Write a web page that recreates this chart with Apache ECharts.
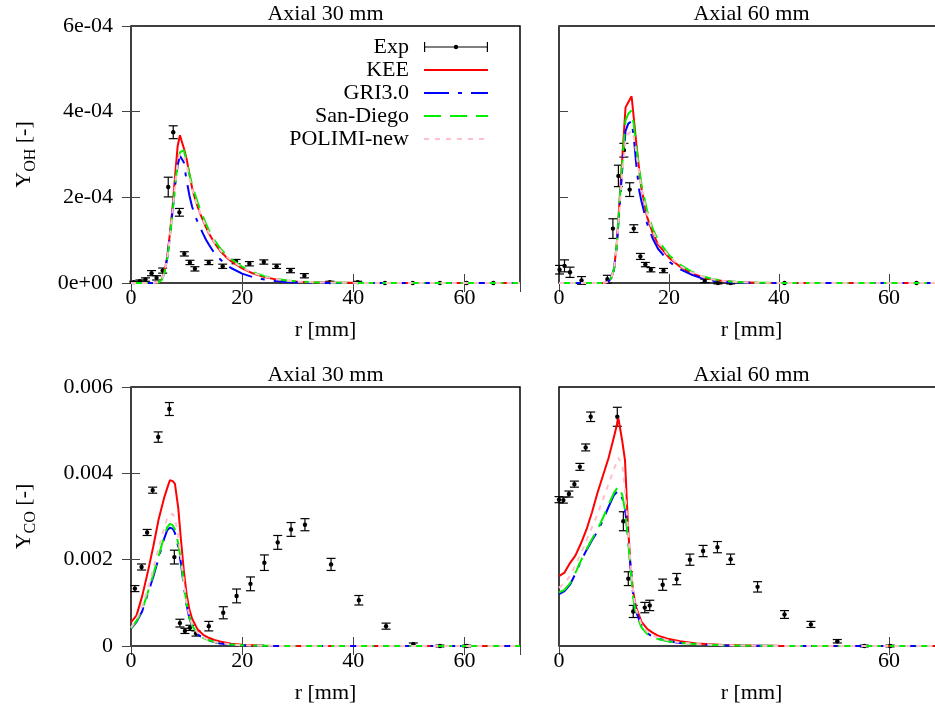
<!DOCTYPE html>
<html>
<head>
<meta charset="utf-8">
<script src="https://cdn.jsdelivr.net/npm/echarts@6/dist/echarts.min.js"></script>
<style>html,body{margin:0;padding:0;background:#fff;}#c{width:935px;height:711px;}</style>
</head>
<body>
<div id="c"></div>
<script>
// ---------------- DATA ----------------
const seriesNames = ['Exp', 'KEE', 'GRI3.0', 'San-Diego', 'POLIMI-new'];
const panelTitles = ['Axial 30 mm', 'Axial 60 mm', 'Axial 30 mm', 'Axial 60 mm'];
const xTickLabels = [0, 20, 40, 60];
const xTickLabelsCO60 = [0, 60];
const yTickLabelsOH = ['0e+00', '2e-04', '4e-04', '6e-04'];
const yTickLabelsCO = ['0', '0.002', '0.004', '0.006'];

// Y_OH, axial 30 mm
const rOH30 = [0,2,4,5,5.5,6,6.5,7,7.5,8,8.4,8.8,9.5,10,10.5,11,11.5,12,12.5,13,13.5,14,15,16,17,18,20,22,24,26,28,30,33,36,40,45,50,60,70];
const keeOH30 = [0,0,0,2e-6,8e-6,2.5e-5,6e-5,1.15e-4,1.8e-4,2.6e-4,3.2e-4,3.45e-4,3.15e-4,2.9e-4,2.55e-4,2.22e-4,1.98e-4,1.78e-4,1.6e-4,1.45e-4,1.3e-4,1.16e-4,9.4e-5,7.6e-5,6.2e-5,5.1e-5,3.4e-5,2.2e-5,1.4e-5,8.5e-6,5e-6,3e-6,1.5e-6,8e-7,3e-7,1e-7,0,0,0];
const griOH30 = [0,0,0,2e-6,7e-6,2.4e-5,5.6e-5,1.08e-4,1.7e-4,2.35e-4,2.75e-4,2.97e-4,2.82e-4,2.4e-4,2.05e-4,1.78e-4,1.58e-4,1.42e-4,1.28e-4,1.14e-4,1.01e-4,9.0e-5,7.0e-5,5.6e-5,4.4e-5,3.5e-5,2.2e-5,1.35e-5,8e-6,4.5e-6,2.5e-6,1.4e-6,6e-7,2e-7,0,0,0,0,0];
const sdOH30 = [0,0,0,2e-6,7e-6,2.3e-5,5.5e-5,1.05e-4,1.68e-4,2.35e-4,2.8e-4,3.05e-4,3.1e-4,2.85e-4,2.55e-4,2.3e-4,2.08e-4,1.88e-4,1.7e-4,1.54e-4,1.38e-4,1.24e-4,1.0e-4,8.2e-5,6.7e-5,5.6e-5,3.8e-5,2.5e-5,1.6e-5,1.0e-5,6e-6,3.5e-6,1.8e-6,9e-7,3e-7,1e-7,0,0,0];
const polOH30 = [0,0,0,2e-6,7e-6,2.4e-5,5.6e-5,1.07e-4,1.7e-4,2.38e-4,2.8e-4,3.02e-4,2.98e-4,2.75e-4,2.45e-4,2.2e-4,1.98e-4,1.79e-4,1.62e-4,1.47e-4,1.32e-4,1.18e-4,9.5e-5,7.8e-5,6.4e-5,5.3e-5,3.6e-5,2.35e-5,1.5e-5,9e-6,5.5e-6,3.2e-6,1.6e-6,8e-7,3e-7,1e-7,0,0,0];
const expROH30 = [0.5,1.6,2.6,3.7,4.6,5.7,6.7,7.6,8.7,9.6,10.6,11.5,14.0,16.5,18.9,21.3,23.9,26.2,28.7,31.2,35.8,40.8,45.7,50.7,55.6,60.4,65.2];
const expYOH30 = [2e-6,4e-6,8e-6,2.3e-5,1.2e-5,2.9e-5,2.24e-4,3.52e-4,1.65e-4,6.8e-5,4.8e-5,3.3e-5,4.8e-5,3.9e-5,5.0e-5,4.5e-5,4.9e-5,3.9e-5,2.9e-5,1.7e-5,2e-6,2e-6,0,0,0,0,0];
const expEOH30 = [2e-6,3e-6,4e-6,6e-6,5e-6,6e-6,2.3e-5,1.5e-5,9e-6,5e-6,5e-6,5e-6,5e-6,5e-6,5e-6,5e-6,5e-6,5e-6,5e-6,5e-6,2e-6,2e-6,1e-6,1e-6,1e-6,1e-6,1e-6];

// Y_OH, axial 60 mm
const rOH60 = [0,4,8,8.5,9,9.5,10,10.5,11,11.5,12.1,12.6,13.2,13.6,14.1,14.6,15,16,17,18,20,22,24,26,28,30,33,36,40,45,50,60,70];
const keeOH60 = [0,0,0,1e-6,4e-6,1.2e-5,3.2e-5,9e-5,1.9e-4,2.9e-4,4.1e-4,4.22e-4,4.36e-4,3.85e-4,3.2e-4,2.62e-4,2.2e-4,1.55e-4,1.18e-4,9.0e-5,5.9e-5,3.8e-5,2.3e-5,1.4e-5,8e-6,4e-6,1.5e-6,6e-7,2e-7,0,0,0,0];
const griOH60 = [0,0,0,1e-6,4e-6,1.2e-5,3.2e-5,8.5e-5,1.75e-4,2.65e-4,3.55e-4,3.72e-4,3.78e-4,3.4e-4,2.7e-4,2.15e-4,1.9e-4,1.4e-4,1.05e-4,8.0e-5,5.0e-5,3.2e-5,2.0e-5,1.1e-5,5.5e-6,2.5e-6,1e-6,3e-7,0,0,0,0,0];
const sdOH60 = [0,0,0,1e-6,4e-6,1.2e-5,3.3e-5,9e-5,1.85e-4,2.8e-4,3.8e-4,3.95e-4,4.03e-4,3.7e-4,3.15e-4,2.65e-4,2.3e-4,1.7e-4,1.28e-4,1.0e-4,6.5e-5,4.3e-5,2.7e-5,1.6e-5,9e-6,5e-6,2e-6,8e-7,2e-7,0,0,0,0];
const polOH60 = [0,0,0,1e-6,4e-6,1.2e-5,3.2e-5,8.5e-5,1.7e-4,2.55e-4,3.3e-4,3.48e-4,3.55e-4,3.4e-4,3.0e-4,2.55e-4,2.2e-4,1.62e-4,1.22e-4,9.5e-5,6.2e-5,4.0e-5,2.5e-5,1.5e-5,8.5e-6,4.5e-6,1.8e-6,7e-7,2e-7,0,0,0,0];
const expROH60 = [0.1,1.0,2.0,4.1,8.8,9.8,10.8,11.8,12.85,13.6,14.8,15.7,16.7,19.0,26.5,28.9,31.2,41.0,65.0];
const expYOH60 = [3.1e-5,4.0e-5,2.5e-5,6e-6,9e-6,1.27e-4,2.5e-4,3.1e-4,2.18e-4,1.27e-4,6.2e-5,4.3e-5,3.1e-5,2.9e-5,5e-6,0,0,0,0];
const expEOH60 = [1e-5,1.4e-5,1.2e-5,9e-6,9e-6,2.3e-5,2.5e-5,1.6e-5,1.6e-5,9e-6,7e-6,5e-6,5e-6,5e-6,4e-6,2e-6,2e-6,1e-6,1e-6];

// Y_CO, axial 30 mm
const rCO30 = [0,1,2,3,4,5,6,6.5,7,7.5,7.9,8.5,9,9.5,10,10.5,11,12,13,14,15,16,18,20,24,28,32,40,50,60,70];
const keeCO30 = [5.5e-4,7.1e-4,1.15e-3,1.7e-3,2.3e-3,2.95e-3,3.45e-3,3.65e-3,3.84e-3,3.82e-3,3.76e-3,3.2e-3,2.45e-3,1.75e-3,1.2e-3,8.5e-4,6.3e-4,3.8e-4,2.6e-4,1.9e-4,1.4e-4,1.05e-4,5.5e-5,2.8e-5,8e-6,2e-6,0,0,0,0,0];
const griCO30 = [4.0e-4,5.6e-4,8.0e-4,1.2e-3,1.6e-3,2.05e-3,2.5e-3,2.68e-3,2.74e-3,2.72e-3,2.62e-3,2.3e-3,1.9e-3,1.4e-3,9.5e-4,6.5e-4,4.6e-4,2.7e-4,1.8e-4,1.3e-4,9e-5,6e-5,3e-5,1.5e-5,4e-6,1e-6,0,0,0,0,0];
const sdCO30 = [4.1e-4,5.8e-4,8.3e-4,1.23e-3,1.65e-3,2.1e-3,2.55e-3,2.75e-3,2.83e-3,2.8e-3,2.7e-3,2.38e-3,1.97e-3,1.45e-3,9.8e-4,6.7e-4,4.7e-4,2.8e-4,1.85e-4,1.35e-4,9.5e-5,6.3e-5,3.2e-5,1.6e-5,4e-6,1e-6,0,0,0,0,0];
const polCO30 = [4.3e-4,6.2e-4,9.2e-4,1.32e-3,1.78e-3,2.28e-3,2.75e-3,2.95e-3,3.05e-3,3.06e-3,2.95e-3,2.55e-3,2.05e-3,1.5e-3,1.0e-3,7.0e-4,5.0e-4,3.0e-4,2.0e-4,1.4e-4,1.0e-4,7e-5,3.5e-5,1.7e-5,5e-6,1e-6,0,0,0,0,0];
const expRCO30 = [0.7,1.9,2.9,3.9,4.9,6.9,7.8,8.8,9.7,10.6,11.7,14.0,16.6,19.0,21.5,24.0,26.4,28.8,31.3,36.0,41.0,45.9,50.8,55.6,60.4];
const expYCO30 = [1.33e-3,1.83e-3,2.63e-3,3.61e-3,4.84e-3,5.49e-3,2.06e-3,5.3e-4,3.5e-4,4.2e-4,2.9e-4,4.6e-4,7.7e-4,1.16e-3,1.44e-3,1.93e-3,2.40e-3,2.70e-3,2.81e-3,1.89e-3,1.06e-3,4.6e-4,4e-5,0,0];
const expECO30 = [7e-5,7e-5,7e-5,7e-5,1.2e-4,1.5e-4,1.6e-4,9e-5,6e-5,6e-5,6e-5,1.1e-4,1.4e-4,1.6e-4,1.6e-4,1.8e-4,1.6e-4,1.6e-4,1.4e-4,1.4e-4,1.1e-4,7e-5,3e-5,2e-5,2e-5];

// Y_CO, axial 60 mm
const rCO60 = [0,1,2,3,4,5,6,7,8,9,10,10.8,11.5,12,12.5,13,13.5,14,15,16,17,18,20,22,25,30,35,40,45,50,60,70];
const keeCO60 = [1.62e-3,1.7e-3,1.92e-3,2.1e-3,2.38e-3,2.7e-3,3.1e-3,3.55e-3,3.95e-3,4.35e-3,4.85e-3,5.27e-3,4.75e-3,4.3e-3,2.9e-3,1.85e-3,1.25e-3,9.0e-4,5.6e-4,4.0e-4,3.1e-4,2.4e-4,1.6e-4,1.1e-4,6e-5,2.5e-5,1e-5,4e-6,1e-6,0,0,0];
const griCO60 = [1.2e-3,1.27e-3,1.42e-3,1.68e-3,1.97e-3,2.22e-3,2.45e-3,2.65e-3,2.92e-3,3.22e-3,3.5e-3,3.6e-3,3.42e-3,3.2e-3,2.6e-3,1.85e-3,1.15e-3,8e-4,4.6e-4,3.0e-4,2.2e-4,1.7e-4,1.1e-4,7e-5,4e-5,1.5e-5,5e-6,0,0,0,0,0];
const sdCO60 = [1.24e-3,1.3e-3,1.45e-3,1.7e-3,1.98e-3,2.24e-3,2.48e-3,2.7e-3,2.97e-3,3.27e-3,3.55e-3,3.7e-3,3.5e-3,3.15e-3,2.55e-3,1.8e-3,1.1e-3,7.5e-4,4.3e-4,2.8e-4,2.1e-4,1.6e-4,1.05e-4,7e-5,4e-5,1.5e-5,5e-6,0,0,0,0,0];
const polCO60 = [1.35e-3,1.45e-3,1.62e-3,1.88e-3,2.15e-3,2.45e-3,2.75e-3,3.05e-3,3.4e-3,3.75e-3,4.1e-3,4.36e-3,4.2e-3,3.6e-3,2.8e-3,1.95e-3,1.25e-3,8.5e-4,5e-4,3.3e-4,2.5e-4,1.9e-4,1.25e-4,8e-5,4.5e-5,1.8e-5,6e-6,0,0,0,0,0];
const expRCO60 = [0.0,0.8,1.8,2.8,3.8,4.85,5.76,10.6,11.7,12.6,13.5,15.6,16.5,18.85,21.4,23.8,26.2,28.8,31.2,36.1,41.0,45.8,50.6,55.5,60.2];
const expYCO60 = [3.39e-3,3.38e-3,3.52e-3,3.75e-3,4.15e-3,4.6e-3,5.31e-3,5.31e-3,2.89e-3,1.56e-3,8.0e-4,8.9e-4,9.4e-4,1.42e-3,1.55e-3,2.0e-3,2.2e-3,2.29e-3,2.01e-3,1.37e-3,7.3e-4,5.0e-4,1.1e-4,0,0];
const expECO60 = [7e-5,7e-5,7e-5,7e-5,8e-5,8e-5,1.1e-4,2.2e-4,2.2e-4,1.6e-4,1.4e-4,1.2e-4,1.2e-4,1.3e-4,1.3e-4,1.3e-4,1.3e-4,1.3e-4,1.2e-4,1.2e-4,9e-5,7e-5,4e-5,2e-5,2e-5];

// ---------------- CHART ----------------
const FONT = 'Liberation Serif';
const panels = [
  {r: rOH30, models: [keeOH30, griOH30, sdOH30, polOH30], exp: [expROH30, expYOH30, expEOH30], oh: true},
  {r: rOH60, models: [keeOH60, griOH60, sdOH60, polOH60], exp: [expROH60, expYOH60, expEOH60], oh: true},
  {r: rCO30, models: [keeCO30, griCO30, sdCO30, polCO30], exp: [expRCO30, expYCO30, expECO30], oh: false},
  {r: rCO60, models: [keeCO60, griCO60, sdCO60, polCO60], exp: [expRCO60, expYCO60, expECO60], oh: false}
];
const grids = [
  {left: 131, top: 26, width: 389, height: 257},
  {left: 559, top: 26, width: 385, height: 257},
  {left: 131, top: 387, width: 389, height: 259},
  {left: 559, top: 387, width: 385, height: 259}
];
const lineStyles = [
  {color: '#ff0000', type: 'solid'},
  {color: '#0000ff', type: [25, 9, 4, 9]},
  {color: '#00ee00', type: [17, 9]},
  {color: '#ffc0cb', type: [5, 6]}
];
const EXP_ICON = 'path://M0,4.4L64,4.4L64,5.6L0,5.6Z M0,0L1.2,0L1.2,10L0,10Z M62.8,0L64,0L64,10L62.8,10Z M34.2,5A2.2,2.2 0 1 1 29.8,5A2.2,2.2 0 1 1 34.2,5Z';

function renderErr(params, api) {
  const x = api.value(0), y = api.value(1), e = api.value(2);
  const c = api.coord([x, y]);
  const hi = api.coord([x, y + e])[1];
  const lo = api.coord([x, y - e])[1];
  const st = {stroke: '#000', lineWidth: 1.2};
  return {type: 'group', children: [
    {type: 'line', shape: {x1: c[0], y1: hi, x2: c[0], y2: lo}, style: st},
    {type: 'line', shape: {x1: c[0] - 4.5, y1: hi, x2: c[0] + 4.5, y2: hi}, style: st},
    {type: 'line', shape: {x1: c[0] - 4.5, y1: lo, x2: c[0] + 4.5, y2: lo}, style: st},
    {type: 'circle', shape: {cx: c[0], cy: c[1], r: 2.2}, style: {fill: '#000'}}
  ]};
}

const textBase = {fontFamily: FONT, fontSize: 22, color: '#000'};
const xAxes = [], yAxes = [], series = [], titles = [];
panels.forEach((p, i) => {
  const g = grids[i];
  const leftCol = (i % 2 === 0);
  const xLabs = (i === 3) ? xTickLabelsCO60 : xTickLabels;
  const xInt = (i === 3) ? 60 : 20;
  const yMax = p.oh ? 6e-4 : 0.006;
  const yInt = p.oh ? 2e-4 : 0.002;
  const yLabs = p.oh ? yTickLabelsOH : yTickLabelsCO;
  const tick = {show: true, inside: true, length: 9, lineStyle: {color: '#444', width: 1}};
  xAxes.push({
    gridIndex: i, type: 'value', min: 0, max: 70, interval: xInt, position: 'bottom',
    axisLine: {show: false}, splitLine: {show: false}, axisTick: tick,
    axisLabel: Object.assign({margin: 4, formatter: v => xLabs.indexOf(v) >= 0 ? String(v) : ''}, textBase),
    name: 'r [mm]', nameLocation: 'middle', nameGap: 36, nameTextStyle: textBase
  });
  xAxes.push({
    gridIndex: i, type: 'value', min: 0, max: 70, interval: xInt, position: 'top',
    axisLine: {show: false}, splitLine: {show: false}, axisTick: tick, axisLabel: {show: false}
  });
  yAxes.push({
    gridIndex: i, type: 'value', min: 0, max: yMax, interval: yInt, position: 'left',
    axisLine: {show: false}, splitLine: {show: false},
    axisTick: Object.assign({}, tick, {show: i !== 3}),
    axisLabel: Object.assign({show: leftCol, margin: 18, formatter: v => yLabs[Math.round(v / yInt)]}, textBase),
    name: leftCol ? (p.oh ? 'Y{s|OH} [-]' : 'Y{s|CO} [-]') : '',
    nameLocation: 'middle', nameGap: 92,
    nameTextStyle: Object.assign({rich: {s: {fontFamily: FONT, fontSize: 16, color: '#000', padding: [14, 0, 0, 0]}}}, textBase)
  });
  yAxes.push({
    gridIndex: i, type: 'value', min: 0, max: yMax, interval: yInt, position: 'right',
    axisLine: {show: false}, splitLine: {show: false},
    axisTick: Object.assign({}, tick, {show: leftCol}), axisLabel: {show: false}
  });
  titles.push({
    text: panelTitles[i], left: leftCol ? g.left + g.width / 2 : g.left + 192.5, top: g.top - 23,
    textAlign: 'center', padding: 0,
    textStyle: {fontFamily: FONT, fontSize: 22, fontWeight: 'normal', color: '#000'}
  });
  series.push({
    name: 'Exp', type: 'custom', xAxisIndex: 2 * i, yAxisIndex: 2 * i,
    renderItem: renderErr, encode: {x: 0, y: 1}, itemStyle: {color: '#000'},
    data: p.exp[0].map((x, k) => [x, p.exp[1][k], p.exp[2][k]]), silent: true
  });
  p.models.forEach((m, k) => {
    series.push({
      name: seriesNames[k + 1], type: 'line', xAxisIndex: 2 * i, yAxisIndex: 2 * i,
      symbol: 'none', showSymbol: false, silent: true,
      lineStyle: {width: 2, color: lineStyles[k].color, type: lineStyles[k].type},
      itemStyle: {color: lineStyles[k].color},
      data: p.r.map((x, j) => [x, m[j]])
    });
  });
});

const chart = echarts.init(document.getElementById('c'), null, {renderer: 'canvas'});
chart.setOption({
  animation: false,
  backgroundColor: '#fff',
  title: titles,
  grid: grids.map(g => Object.assign({show: true, borderColor: '#000', borderWidth: 1.5, containLabel: false, outerBoundsMode: 'none'}, g)),
  xAxis: xAxes,
  yAxis: yAxes,
  legend: {
    orient: 'vertical', align: 'right', right: 446, top: 36, padding: 0, itemGap: 1,
    itemWidth: 64, itemHeight: 10, selectedMode: false,
    textStyle: {fontFamily: FONT, fontSize: 22, color: '#000', padding: [0, 10, 0, 0]},
    itemStyle: {opacity: 0},
    data: [
      {name: 'Exp', icon: EXP_ICON, itemStyle: {opacity: 1, color: '#000', borderWidth: 0}},
      'KEE', 'GRI3.0', 'San-Diego', 'POLIMI-new'
    ]
  },
  series: series
});
</script>
</body>
</html>
